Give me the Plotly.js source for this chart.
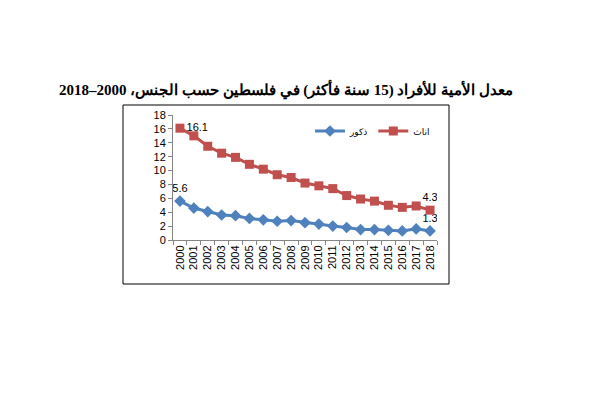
<!DOCTYPE html>
<html>
<head>
<meta charset="utf-8">
<script src="https://cdn.plot.ly/plotly-3.0.1.min.js"></script>
<style>html,body{margin:0;padding:0;background:#fff;}#chart{width:606px;height:397px;}</style>
</head>
<body>
<div id="chart"></div>
<script>
const years = ['2000','2001','2002','2003','2004','2005','2006','2007','2008','2009','2010','2011','2012','2013','2014','2015','2016','2017','2018'];
const males = [5.6, 4.6, 4.1, 3.6, 3.5, 3.1, 2.9, 2.7, 2.8, 2.5, 2.3, 2.0, 1.8, 1.5, 1.5, 1.4, 1.3, 1.6, 1.3];
const females = [16.1, 15.0, 13.5, 12.5, 11.9, 10.9, 10.2, 9.4, 9.0, 8.2, 7.8, 7.4, 6.4, 5.9, 5.6, 5.0, 4.7, 4.9, 4.3];
const maleName = 'ذكور';
const femaleName = 'اناث';
const titleText = 'معدل الأمية للأفراد (15 سنة فأكثر) في فلسطين حسب الجنس، 2000–2018';

function endLabels(arr){
  return arr.map((v,i)=> (i===0 || i===arr.length-1) ? v.toFixed(1) : '');
}

const traces = [
  {
    x: years, y: males, name: maleName, type: 'scatter', mode: 'lines+markers+text',
    line: {color: '#4F81BD', width: 3},
    marker: {symbol: 'diamond', size: 9, color: '#4F81BD'},
    text: endLabels(males),
    textposition: 'top center',
    textfont: {family: 'Liberation Sans, Arial', size: 11, color: '#000'}
  },
  {
    x: years, y: females, name: femaleName, type: 'scatter', mode: 'lines+markers+text',
    line: {color: '#C0504D', width: 3},
    marker: {symbol: 'square', size: 9, color: '#C0504D'},
    text: endLabels(females),
    textposition: years.map((y,i)=> i===0 ? 'middle right' : 'top center'),
    textfont: {family: 'Liberation Sans, Arial', size: 11, color: '#000'}
  }
];

const L = 173, R = 437, T = 115, B = 240, W = 606, H = 397;
const px = v => (v - L) / (R - L);
const py = v => (B - v) / (B - T);

const layout = {
  width: W, height: H,
  margin: {l: L, r: W - R, t: T, b: H - B, pad: 0},
  paper_bgcolor: '#fff', plot_bgcolor: 'rgba(0,0,0,0)',
  showlegend: true,
  legend: {
    orientation: 'h', x: px(310), y: py(131), xanchor: 'left', yanchor: 'middle',
    font: {family: 'DejaVu Sans, Arial', size: 9, color: '#000'},
    bgcolor: 'rgba(0,0,0,0)', tracegroupgap: 0
  },
  title: {
    text: '<b>\u202B' + titleText + '\u202C</b>',
    x: 286 / W, xref: 'container', xanchor: 'center',
    y: 1 - 90 / H, yref: 'container', yanchor: 'middle',
    font: {family: 'Liberation Serif, Times New Roman', size: 15, color: '#000'}
  },
  xaxis: {
    type: 'category', range: [-0.5, years.length - 0.5], tickangle: -90,
    tickmode: 'array', tickvals: years, ticktext: years, tickson: 'boundaries',
    showline: true, linecolor: '#868686', linewidth: 1,
    ticks: 'outside', ticklen: 4, tickcolor: '#868686',
    showgrid: false, zeroline: false,
    tickfont: {family: 'Liberation Sans, Arial', size: 11, color: '#000'},
    fixedrange: true
  },
  yaxis: {
    range: [0, 18], tickvals: [0,2,4,6,8,10,12,14,16,18],
    showline: true, linecolor: '#868686', linewidth: 1,
    ticks: 'outside', ticklen: 4, tickcolor: '#868686',
    showgrid: false, zeroline: false,
    tickfont: {family: 'Liberation Sans, Arial', size: 11, color: '#000'},
    fixedrange: true
  },
  shapes: [
    {type: 'rect', xref: 'paper', yref: 'paper',
     x0: px(123), x1: px(449), y0: py(284), y1: py(105),
     line: {color: '#000', width: 1}, fillcolor: 'rgba(0,0,0,0)', layer: 'below'}
  ]
};

Plotly.newPlot('chart', traces, layout, {displayModeBar: false, staticPlot: true});
</script>
</body>
</html>
